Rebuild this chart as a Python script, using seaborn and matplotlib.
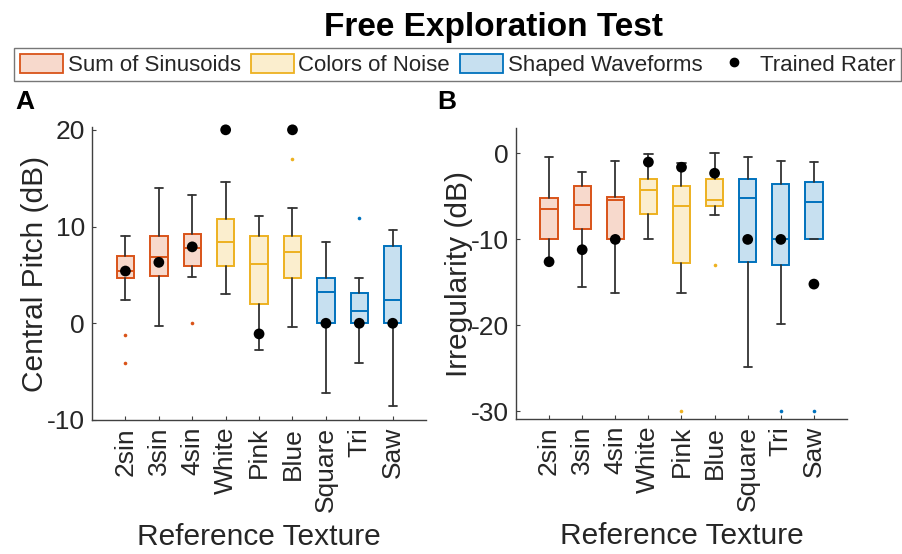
import numpy as np
import pandas as pd
import matplotlib
matplotlib.use("Agg")
import matplotlib.pyplot as plt
from matplotlib.patches import Patch
from matplotlib.lines import Line2D
import seaborn as sns

# ---------------- data ----------------
categories = ['2sin', '3sin', '4sin', 'White', 'Pink', 'Blue', 'Square', 'Tri', 'Saw']
groups = ['Sum of Sinusoids'] * 3 + ['Colors of Noise'] * 3 + ['Shaped Waveforms'] * 3
group_names = ['Sum of Sinusoids', 'Colors of Noise', 'Shaped Waveforms']

# Panel A: Central Pitch (dB)
pitch_whislo = [2.4, -0.3, 4.8, 3.0, -2.8, -0.4, -7.2, -4.1, -8.6]
pitch_q1 = [4.7, 4.9, 5.9, 5.9, 2.0, 4.7, 0.0, 0.0, 0.0]
pitch_med = [5.4, 6.9, 7.8, 8.4, 6.1, 7.4, 3.2, 1.3, 2.4]
pitch_q3 = [7.0, 9.0, 9.2, 10.8, 9.0, 9.0, 4.7, 3.1, 8.0]
pitch_whishi = [9.0, 14.0, 13.3, 14.6, 11.1, 11.9, 8.4, 4.7, 9.6]
pitch_fliers = [[-1.2, -4.1], [], [0.0], [], [], [17.0], [], [10.9], []]
pitch_rater = [5.4, 6.3, 7.9, 20.0, -1.1, 20.0, 0.0, 0.0, 0.0]

# Panel B: Irregularity (dB)
irr_whislo = [-12.6, -15.5, -16.2, -10.0, -16.2, -7.2, -24.8, -19.8, -10.0]
irr_q1 = [-10.0, -8.8, -10.0, -7.0, -12.8, -6.1, -12.6, -13.0, -10.0]
irr_med = [-6.5, -6.0, -5.4, -4.3, -6.1, -5.4, -5.2, -10.0, -5.6]
irr_q3 = [-5.2, -3.8, -5.1, -3.0, -3.8, -3.0, -3.0, -3.5, -3.3]
irr_whishi = [-0.4, -2.2, -0.9, -0.1, -1.1, 0.0, -0.4, -0.9, -1.0]
irr_fliers = [[], [], [], [], [-30.0], [-13.0], [], [-30.0], [-30.0]]
irr_rater = [-12.6, -11.2, -10.0, -1.0, -1.6, -2.3, -10.0, -10.0, -15.2]

# ---------------- style ----------------
sns.set_theme(style='white')
plt.rcParams['font.family'] = ['Liberation Sans', 'DejaVu Sans']
plt.rcParams['axes.unicode_minus'] = False
TXT = '#262626'
palette = {'Sum of Sinusoids': '#D95319', 'Colors of Noise': '#EDB120', 'Shaped Waveforms': '#0072BD'}


def light(c, a=0.22):
    rgb = np.array(matplotlib.colors.to_rgb(c))
    return tuple(1 - a * (1 - rgb))


fig = plt.figure(figsize=(9.03, 5.54), dpi=100)
axA = fig.add_axes([0.1019, 0.2419, 0.370, 0.529])
axB = fig.add_axes([0.5714, 0.2437, 0.3666, 0.525])


def draw_panel(ax, whislo, q1, med, q3, whishi, fliers, rater, ylim, yticks, ylabel):
    positions = np.arange(1, len(categories) + 1)
    for i, cat in enumerate(categories):
        col = palette[groups[i]]
        stats = [dict(whislo=whislo[i], q1=q1[i], med=med[i], q3=q3[i],
                      whishi=whishi[i], fliers=fliers[i], label=cat)]
        ax.bxp(stats, positions=[positions[i]], widths=0.52, capwidths=0.25,
               patch_artist=True, showfliers=True,
               boxprops=dict(facecolor=light(col), edgecolor=col, linewidth=1.4),
               medianprops=dict(color=col, linewidth=1.4),
               whiskerprops=dict(color='#333333', linewidth=1.3),
               capprops=dict(color='#333333', linewidth=1.3),
               flierprops=dict(marker='o', markersize=2.6, markerfacecolor=col,
                               markeredgecolor='none', linestyle='none'),
               manage_ticks=False)
    df = pd.DataFrame({'pos': positions, 'val': rater})
    sns.scatterplot(data=df, x='pos', y='val', color='black', s=60,
                    edgecolor='none', ax=ax, zorder=5, clip_on=False, legend=False)
    ax.set_xlim(0, 10)
    ax.set_ylim(*ylim)
    ax.set_yticks(yticks)
    ax.set_xticks(positions)
    ax.set_xticklabels(categories, rotation=90, fontsize=19, color=TXT)
    ax.tick_params(axis='y', labelsize=19, colors=TXT)
    ax.tick_params(direction='in', length=3, width=0.8, color='#404040', bottom=True, left=True, pad=5)
    for s in ['top', 'right']:
        ax.spines[s].set_visible(False)
    for s in ['left', 'bottom']:
        ax.spines[s].set_color('#404040')
        ax.spines[s].set_linewidth(1.0)
    ax.set_xlabel('Reference Texture', fontsize=21.5, color=TXT, labelpad=8)
    ax.set_ylabel(ylabel, fontsize=21.5, color=TXT, labelpad=-1.5)


draw_panel(axA, pitch_whislo, pitch_q1, pitch_med, pitch_q3, pitch_whishi,
           pitch_fliers, pitch_rater, (-10, 20.3), [-10, 0, 10, 20], 'Central Pitch (dB)')
draw_panel(axB, irr_whislo, irr_q1, irr_med, irr_q3, irr_whishi,
           irr_fliers, irr_rater, (-30.9, 2.95), [-30, -20, -10, 0], 'Irregularity (dB)')

fig.text(0.546, 0.950, 'Free Exploration Test', ha='center', va='center',
         fontsize=24, fontweight='bold', color='black')
fig.text(0.0166, 0.816, 'A', ha='left', va='center', fontsize=19, fontweight='bold', color='black')
fig.text(0.484, 0.816, 'B', ha='left', va='center', fontsize=19, fontweight='bold', color='black')

handles = [Patch(facecolor=light(palette[g]), edgecolor=palette[g], linewidth=1.3, label=g)
           for g in group_names]
handles.append(Line2D([], [], marker='o', color='black', linestyle='none',
                      markersize=6, label='Trained Rater'))
leg = fig.legend(handles=handles, loc='center', bbox_to_anchor=(0.507, 0.883), ncol=4,
                 fontsize=16, frameon=True, fancybox=False, edgecolor='#555555',
                 handlelength=1.95, handleheight=0.95, handletextpad=0.2,
                 columnspacing=0.45, borderpad=0.25, borderaxespad=0)
leg.get_frame().set_linewidth(1.0)
for t in leg.get_texts():
    t.set_color(TXT)

fig.savefig('out.png', dpi=100)
